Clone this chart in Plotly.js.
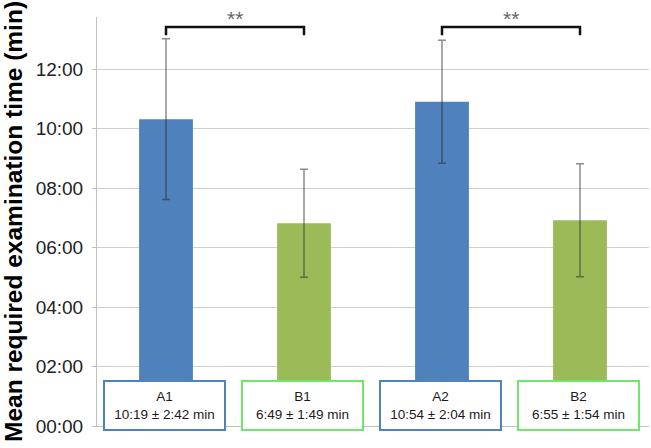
<!DOCTYPE html>
<html>
<head>
<meta charset="utf-8">
<script src="https://cdn.plot.ly/plotly-3.0.1.min.js"></script>
<style>html,body{margin:0;padding:0;background:#fff;}#chart{width:651px;height:448px;}</style>
</head>
<body>
<div id="chart"></div>
<script>
// Data (minutes)
const categories = ['A1', 'B1', 'A2', 'B2'];
const meanMinutes = [10 + 19/60, 6 + 49/60, 10 + 54/60, 6 + 55/60];
const sdMinutes = [2 + 42/60, 1 + 49/60, 2 + 4/60, 1 + 54/60];
const meanLabels = ['10:19', '6:49', '10:54', '6:55'];
const sdLabels = ['2:42', '1:49', '2:04', '1:54'];
const tickValues = [0, 2, 4, 6, 8, 10, 12];
const tickLabels = ['00:00', '02:00', '04:00', '06:00', '08:00', '10:00', '12:00'];
const significancePairs = [['A1', 'B1', '**'], ['A2', 'B2', '**']];

const BLUE = '#4f81bd', GREEN = '#9bbb59';
const barColors = categories.map(c => c.startsWith('A') ? BLUE : GREEN);
const boxBorders = categories.map(c => c.startsWith('A') ? '#4f81bd' : '#6ee86a');

const trace = {
  type: 'bar',
  x: categories,
  y: meanMinutes,
  marker: {color: barColors, line: {width: 0}},
  error_y: {type: 'data', array: sdMinutes, visible: true,
            color: 'rgba(45,45,45,0.55)', thickness: 1.5, width: 4},
  hoverinfo: 'none'
};

const annotations = categories.map((c, i) => ({
  x: c, xref: 'x', y: 0.72, yref: 'y',
  text: c + '<br>' + meanLabels[i] + ' \u00b1 ' + sdLabels[i] + ' min',
  showarrow: false,
  font: {family: 'Liberation Sans, Arial, sans-serif', size: 13.5, color: '#1a1a1a'},
  bgcolor: '#ffffff', bordercolor: boxBorders[i], borderwidth: 2, borderpad: 0,
  width: 119, height: 47, xshift: -2, yshift: -1
}));

const shapes = [];
significancePairs.forEach(([a, b, label]) => {
  const ia = categories.indexOf(a), ib = categories.indexOf(b);
  const top = 13.41, leg = 13.14;
  shapes.push({type: 'path', xref: 'x', yref: 'y',
    path: `M ${ia},${leg} L ${ia},${top} L ${ib},${top} L ${ib},${leg}`,
    line: {color: '#111111', width: 2.5}});
  annotations.push({x: (ia + ib) / 2, xref: 'x', y: top, yref: 'y', yanchor: 'bottom',
    text: label, showarrow: false, yshift: -5,
    font: {family: 'Liberation Sans, Arial, sans-serif', size: 21, color: '#666666'}});
});

const layout = {
  width: 651, height: 448,
  margin: {l: 97, r: 2, t: 17, b: 22, pad: 0},
  paper_bgcolor: '#ffffff', plot_bgcolor: '#ffffff',
  showlegend: false,
  bargap: 0.61,
  xaxis: {type: 'category', showticklabels: false, ticks: '', showgrid: false,
          showline: true, linecolor: '#c0c0c0', linewidth: 1, zeroline: false,
          range: [-0.5, 3.5], fixedrange: true},
  yaxis: {range: [0, 13.75], tickvals: tickValues, ticktext: tickLabels,
          showgrid: true, gridcolor: '#d0d0d0', gridwidth: 1,
          showline: true, linecolor: '#c0c0c0', linewidth: 1,
          ticks: 'outside', ticklen: 4, tickcolor: '#c0c0c0',
          ticklabelstandoff: 5,
          zeroline: false,
          tickfont: {family: 'Liberation Sans, Arial, sans-serif', size: 19, color: '#222222'},
          title: {text: 'Mean required examination time (min)', standoff: 6,
                  font: {family: 'Liberation Sans, Arial, sans-serif', size: 24.5, color: '#000000', weight: 'bold'}}},
  shapes: shapes,
  annotations: annotations
};

Plotly.newPlot('chart', [trace], layout, {displayModeBar: false, staticPlot: true});
</script>
</body>
</html>
